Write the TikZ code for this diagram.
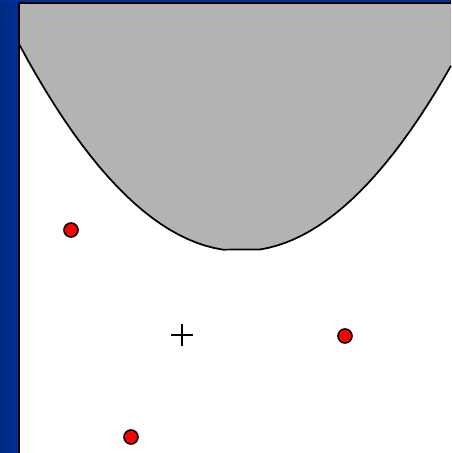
\documentclass[tikz,border=0pt]{standalone}
\begin{document}
\begin{tikzpicture}[x=0.75pt,y=-0.75pt,
  pt/.style={circle,draw=black,fill=red,line width=1.2pt,minimum size=10.5pt,inner sep=0pt},
  outline/.style={draw=black,line width=1.3pt}]
\definecolor{barblue}{RGB}{0,48,150}
\definecolor{regiongray}{RGB}{179,179,179}
\useasboundingbox (0,0) rectangle (451,453);
% background
\fill[white] (0,0) rectangle (451,453);
\shade[left color=barblue!85!black, right color=barblue] (0,0) rectangle (19,453);
\fill[barblue] (0,0) rectangle (451,3);
% gray region
\fill[regiongray] (19,3.5) -- (19,44)
  -- plot[domain=19:223,samples=24] (\x,{251-207*((\x-241)/222)^2})
  -- plot[domain=260:451,samples=24] (\x,{251-207*((\x-241)/222)^2})
  -- (451,3.5) -- cycle;
\draw[outline,line join=round] (19,44)
  -- plot[domain=19:223,samples=24] (\x,{251-207*((\x-241)/222)^2})
  -- plot[domain=260:451,samples=24] (\x,{251-207*((\x-241)/222)^2});
% frame lines
\draw[black,line width=1.5pt] (18.5,453) -- (18.5,3.5) -- (451,3.5);
% plus
\coordinate (c) at (182,335);
\draw[line width=1.2pt] (c) ++(-11,0) -- ++(22,0);
\draw[line width=1.2pt] (c) ++(0,-11) -- ++(0,22);
% points
\node[pt] (p1) at (71,230) {};
\node[pt] (p2) at (345,336) {};
\node[pt] (p3) at (131,437) {};
\end{tikzpicture}
\end{document}
